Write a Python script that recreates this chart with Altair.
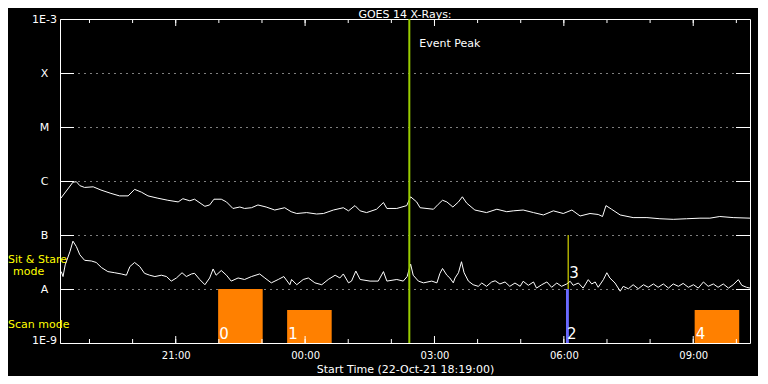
import altair as alt
import pandas as pd

FONT = "DejaVu Sans"
START = "2021-10-22 18:19:00"
END = "2021-10-23 10:19:00"
TITLE = "GOES 14 X-Rays:"
X_TITLE = "Start Time (22-Oct-21 18:19:00)"

# GOES long channel (1-8 A), hours after start, flux W/m^2
long_hours = [0.02, 0.30, 0.38, 0.46, 0.57, 0.77, 0.95, 1.18, 1.38, 1.58, 1.73, 1.89, 2.04, 2.27, 2.50,
              2.74, 2.85, 3.01, 3.12, 3.36, 3.47, 3.57, 3.74, 3.86, 4.01, 4.17, 4.28, 4.44, 4.59, 4.78,
              4.98, 5.21, 5.36, 5.49, 5.72, 5.95, 6.11, 6.34, 6.57, 6.69, 6.84, 6.96, 7.11, 7.34, 7.50,
              7.58, 7.81, 8.04, 8.13, 8.27, 8.35, 8.66, 8.77, 8.87, 8.97, 9.11, 9.24, 9.33, 9.43, 9.62,
              9.89, 10.13, 10.36, 10.51, 10.74, 10.98, 11.21, 11.44, 11.67, 11.87, 12.06, 12.29, 12.48,
              12.58, 12.66, 12.79, 12.99, 13.29, 13.61, 13.91, 14.22, 14.53, 14.84, 15.07, 15.30, 15.61,
              16.00]
long_flux = [4.8e-7, 9.5e-7, 9.7e-7, 8.2e-7, 7.6e-7, 7.8e-7, 6.8e-7, 5.9e-7, 5.3e-7, 5.3e-7, 7.0e-7,
             6.2e-7, 5.3e-7, 4.8e-7, 4.4e-7, 4.1e-7, 4.7e-7, 4.3e-7, 4.6e-7, 3.4e-7, 3.6e-7, 4.6e-7,
             4.6e-7, 4.1e-7, 3.1e-7, 3.3e-7, 3.1e-7, 3.2e-7, 3.6e-7, 3.3e-7, 2.9e-7, 3.2e-7, 2.7e-7,
             2.5e-7, 2.6e-7, 2.45e-7, 2.5e-7, 2.9e-7, 3.2e-7, 2.8e-7, 3.5e-7, 2.8e-7, 2.6e-7, 3.0e-7,
             4.0e-7, 3.1e-7, 3.1e-7, 3.5e-7, 5.1e-7, 4.1e-7, 3.2e-7, 3.0e-7, 3.7e-7, 4.4e-7, 4.1e-7,
             3.3e-7, 4.1e-7, 5.1e-7, 3.9e-7, 2.9e-7, 2.6e-7, 3.0e-7, 2.7e-7, 2.8e-7, 2.9e-7, 2.6e-7,
             2.35e-7, 2.8e-7, 2.5e-7, 2.9e-7, 2.25e-7, 2.5e-7, 2.4e-7, 2.2e-7, 3.5e-7, 3.0e-7, 2.35e-7,
             2.1e-7, 2.1e-7, 2.0e-7, 1.95e-7, 2.0e-7, 2.05e-7, 2.05e-7, 2.2e-7, 2.1e-7, 2.05e-7]

# GOES short channel (0.5-4 A)
short_hours = [0.03, 0.07, 0.12, 0.23, 0.30, 0.38, 0.46, 0.57, 0.73, 0.84, 0.96, 1.11, 1.27, 1.42, 1.54,
               1.62, 1.73, 1.85, 1.96, 2.08, 2.20, 2.35, 2.47, 2.58, 2.70, 2.83, 2.93, 3.05, 3.12, 3.24,
               3.36, 3.47, 3.55, 3.62, 3.74, 3.86, 3.97, 4.13, 4.28, 4.44, 4.63, 4.75, 4.90, 5.06, 5.19,
               5.33, 5.37, 5.49, 5.64, 5.76, 5.91, 6.07, 6.22, 6.38, 6.49, 6.57, 6.69, 6.76, 6.86, 6.96,
               7.19, 7.38, 7.50, 7.58, 7.81, 7.96, 8.05, 8.13, 8.19, 8.31, 8.43, 8.62, 8.74, 8.81, 8.87,
               8.97, 9.04, 9.12,
               9.16, 9.24, 9.31, 9.37, 9.47, 9.58, 9.70, 9.78, 9.89, 10.01, 10.09, 10.20, 10.32, 10.43,
               10.55, 10.67, 10.74, 10.86, 10.98, 11.05, 11.17, 11.29, 11.40, 11.52, 11.63, 11.75, 11.83,
               11.90, 12.02, 12.13, 12.25, 12.33, 12.41, 12.48, 12.60, 12.68, 12.75, 12.87, 12.99, 13.06,
               13.18, 13.29, 13.41, 13.53, 13.64, 13.76, 13.87, 13.99, 14.11, 14.22, 14.34, 14.45, 14.57,
               14.69, 14.80, 14.92, 15.03, 15.15, 15.26, 15.38, 15.50, 15.61, 15.73, 15.81, 15.92, 16.00]
short_flux = [2.1e-8, 1.7e-8, 2.8e-8, 4.9e-8, 7.7e-8, 6.1e-8, 4.3e-8, 3.4e-8, 3.3e-8, 3.1e-8, 2.5e-8,
              2.1e-8, 2.0e-8, 1.9e-8, 1.8e-8, 2.6e-8, 3.1e-8, 2.6e-8, 1.95e-8, 1.8e-8, 1.7e-8, 1.8e-8,
              1.7e-8, 1.4e-8, 1.6e-8, 2.0e-8, 1.7e-8, 1.9e-8, 1.95e-8, 1.5e-8, 1.2e-8, 1.6e-8, 2.35e-8,
              1.8e-8, 2.2e-8, 1.8e-8, 1.4e-8, 1.6e-8, 1.5e-8, 1.7e-8, 1.9e-8, 1.6e-8, 1.3e-8, 1.5e-8,
              1.7e-8, 1.2e-8, 1.5e-8, 1.2e-8, 1.5e-8, 1.6e-8, 1.3e-8, 1.2e-8, 1.5e-8, 1.8e-8, 1.6e-8,
              1.9e-8, 1.3e-8, 1.4e-8, 2.15e-8, 1.5e-8, 1.4e-8, 1.4e-8, 2.1e-8, 1.4e-8, 1.5e-8, 1.4e-8,
              1.7e-8, 2.9e-8, 1.8e-8, 1.4e-8, 1.3e-8, 1.4e-8, 1.3e-8, 1.95e-8, 2.4e-8, 1.8e-8, 1.6e-8,
              1.3e-8,
              1.6e-8, 2.0e-8, 3.2e-8, 2.0e-8, 1.4e-8, 1.2e-8, 1.12e-8, 1.29e-8, 1.12e-8, 1.35e-8,
              1.42e-8, 1.24e-8, 1.35e-8, 1.12e-8, 1.29e-8, 1.12e-8, 1.39e-8, 1.17e-8, 1.35e-8, 1.04e-8,
              1.2e-8, 1.35e-8, 1.075e-8, 1.29e-8, 1.12e-8, 1.24e-8, 1.39e-8, 1.17e-8, 1.29e-8, 1.04e-8,
              1.49e-8, 1.24e-8, 1.35e-8, 1.075e-8, 1.49e-8, 2.0e-8, 1.6e-8, 1.29e-8, 9.1e-9, 1.12e-8,
              1.01e-8, 1.2e-8, 1.01e-8, 1.2e-8, 1.075e-8, 1.24e-8, 1.075e-8, 1.24e-8, 1.04e-8, 1.24e-8,
              1.12e-8, 1.27e-8, 1.075e-8, 1.2e-8, 1.04e-8, 1.35e-8, 1.12e-8, 1.24e-8, 1.075e-8, 1.24e-8,
              1.04e-8, 1.2e-8, 1.49e-8, 1.17e-8, 1.075e-8, 1.04e-8]

level_values = [1e-3, 1e-4, 1e-5, 1e-6, 1e-7, 1e-8, 1e-9]
level_labels = ["1E-3", "X", "M", "C", "B", "A", "1E-9"]

hour_ticks = ["2021-10-22 19:00", "2021-10-22 20:00", "2021-10-22 21:00", "2021-10-22 22:00",
              "2021-10-22 23:00", "2021-10-23 00:00", "2021-10-23 01:00", "2021-10-23 02:00",
              "2021-10-23 03:00", "2021-10-23 04:00", "2021-10-23 05:00", "2021-10-23 06:00",
              "2021-10-23 07:00", "2021-10-23 08:00", "2021-10-23 09:00", "2021-10-23 10:00"]
major_ticks = ["2021-10-22 21:00", "2021-10-23 00:00", "2021-10-23 03:00",
               "2021-10-23 06:00", "2021-10-23 09:00"]

mode_labels = ["0", "1", "2", "4"]
mode_start = ["2021-10-22 21:59", "2021-10-22 23:35", "2021-10-23 06:03", "2021-10-23 09:02"]
mode_end = ["2021-10-22 23:01", "2021-10-23 00:37", "2021-10-23 06:07", "2021-10-23 10:04"]
mode_top = [1.0e-8, 4.1e-9, 1.0e-8, 4.1e-9]
mode_color = ["#ff8000", "#ff8000", "#6a6aff", "#ff8000"]
mode_label_flux = [1.19e-9, 1.19e-9, 1.19e-9, 1.19e-9]

event3_label = "3"
event3_time = "2021-10-23 06:06"
event3_low, event3_high = 1e-8, 1e-7
event3_label_flux = 1.6e-8

peak_label = "Event Peak"
peak_time = "2021-10-23 02:25"
peak_label_flux = 3.0e-4

sit_texts = ["Sit & Stare", "Scan mode"]
sit_flux = [3.0e-8, 1.9e-9]
mode_word = ["mode"]
mode_word_flux = [1.8e-8]

# ---------------------------------------------------------------
assert len(long_hours) == len(long_flux)
assert len(short_hours) == len(short_flux)

W, H = 690, 324


def dt(s):
    ts = pd.Timestamp(s)
    return alt.DateTime(year=ts.year, month=ts.month, date=ts.day, hours=ts.hour, minutes=ts.minute)


t0 = pd.Timestamp(START)
curve_df = pd.concat([
    pd.DataFrame({"t": t0 + pd.to_timedelta(long_hours, unit="h"), "f": long_flux, "series": "long"}),
    pd.DataFrame({"t": t0 + pd.to_timedelta(short_hours, unit="h"), "f": short_flux, "series": "short"}),
])
mode_df = pd.DataFrame({"t": pd.to_datetime(mode_start), "t2": pd.to_datetime(mode_end),
                        "f": [1e-9] * len(mode_top), "f2": mode_top, "c": mode_color,
                        "label": mode_labels, "lf": mode_label_flux})
ev3_df = pd.DataFrame({"t": [pd.Timestamp(event3_time)], "f": [event3_low], "f2": [event3_high],
                       "label": [event3_label], "lf": [event3_label_flux]})
peak_df = pd.DataFrame({"t": [pd.Timestamp(peak_time)], "label": [peak_label], "lf": [peak_label_flux]})
hour_df = pd.DataFrame({"t": pd.to_datetime(hour_ticks)})
major_df = pd.DataFrame({"t": pd.to_datetime(major_ticks)})
lev_df = pd.DataFrame({"f": level_values[1:-1]})
sit_df = pd.DataFrame({"label": sit_texts, "f": sit_flux})
word_df = pd.DataFrame({"label": mode_word, "f": mode_word_flux})
title_df = pd.DataFrame({"label": [TITLE]})

xscale = alt.Scale(domain=[dt(START), dt(END)])
yscale = alt.Scale(type="log", domain=[1e-9, 1e-3])

label_expr = "".join(f"datum.value > {v / 2} ? '{lab}' : " for v, lab in zip(level_values, level_labels)) + "''"

yaxis = alt.Axis(values=level_values, labelExpr=label_expr, grid=True, gridDash=[1, 5],
                 gridColor="white", gridOpacity=1, gridWidth=1, domain=False, ticks=False, tickSize=0,
                 labelAlign="center", labelPadding=16, labelColor="white", labelFontSize=11,
                 labelFont=FONT, title=None,
                 labelBaseline={"condition": {"test": "datum.value < 2e-9", "value": "alphabetic"},
                                "value": "middle"})
xaxis = alt.Axis(values=[dt(s) for s in major_ticks], labelExpr="timeFormat(datum.value, '%H:%M')",
                 grid=False, ticks=False, tickSize=0, domain=False, labelPadding=7, labelColor="white",
                 labelFontSize=10, labelFont=FONT, labelFlush=False, title=X_TITLE, titleColor="white",
                 titleFontSize=11, titleFont=FONT, titleFontWeight="normal", titlePadding=3)

tx = alt.X("t:T", scale=xscale, axis=xaxis)
tx2 = alt.X2("t2:T")
fy = alt.Y("f:Q", scale=yscale, axis=yaxis)
lfy = alt.Y("lf:Q", scale=yscale, axis=yaxis)

bars = alt.Chart(mode_df).mark_rect().encode(
    x=tx, x2=tx2, y=fy, y2="f2:Q", color=alt.Color("c:N", scale=None))

curves = alt.Chart(curve_df).mark_line(color="white", strokeWidth=1).encode(
    x=tx, y=fy, detail="series:N")

peak_rule = alt.Chart(peak_df).mark_rule(color="#99cc00", strokeWidth=2).encode(x=tx)
peak_text = alt.Chart(peak_df).mark_text(align="left", baseline="alphabetic", dx=10, fontSize=11,
                                         color="white", font=FONT).encode(x=tx, y=lfy, text="label:N")

ev3_rule = alt.Chart(ev3_df).mark_rule(color="#ffff00", strokeWidth=1).encode(x=tx, y=fy, y2="f2:Q")
ev3_text = alt.Chart(ev3_df).mark_text(align="left", baseline="alphabetic", dx=1, fontSize=15,
                                       color="white", font=FONT).encode(x=tx, y=lfy, text="label:N")
mode_text = alt.Chart(mode_df).mark_text(align="left", baseline="alphabetic", dx=1, fontSize=15,
                                         color="white", font=FONT).encode(x=tx, y=lfy, text="label:N")

bot_minor = alt.Chart(hour_df).mark_rule(color="white").encode(x=tx, y=alt.value(H), y2=alt.value(H - 4))
bot_major = alt.Chart(major_df).mark_rule(color="white").encode(x=tx, y=alt.value(H), y2=alt.value(H - 7))
top_minor = alt.Chart(hour_df).mark_rule(color="white").encode(x=tx, y=alt.value(0), y2=alt.value(4))
top_major = alt.Chart(major_df).mark_rule(color="white").encode(x=tx, y=alt.value(0), y2=alt.value(7))

left_ticks = alt.Chart(lev_df).mark_rule(color="white", yOffset=0.5).encode(
    y=fy, x=alt.value(0), x2=alt.value(14))
right_ticks = alt.Chart(lev_df).mark_rule(color="white", yOffset=0.5).encode(
    y=fy, x=alt.value(W - 14), x2=alt.value(W))

sit_text = alt.Chart(sit_df).mark_text(align="left", baseline="alphabetic", fontSize=11,
                                       color="#ffff00", font=FONT).encode(
    y=fy, x=alt.value(-52), text="label:N")
word_text = alt.Chart(word_df).mark_text(align="left", baseline="alphabetic", fontSize=11,
                                         color="#ffff00", font=FONT).encode(
    y=fy, x=alt.value(-47), text="label:N")

title_text = alt.Chart(title_df).mark_text(align="center", baseline="alphabetic", fontSize=11,
                                           color="white", font=FONT).encode(
    x=alt.value(W / 2), y=alt.value(-1.5), text="label:N")

chart = alt.layer(
    bars, curves, peak_rule, ev3_rule, bot_minor, bot_major, top_minor, top_major,
    left_ticks, right_ticks, peak_text, ev3_text, mode_text, sit_text, word_text, title_text,
).properties(
    width=W, height=H,
    autosize=alt.AutoSizeParams(type="none"),
    padding={"left": 52, "top": 11, "right": 8, "bottom": 33},
).configure(background="black").configure_view(stroke="white", strokeWidth=1)

chart.save("out.html", embed_options={"renderer": "svg", "actions": False})
